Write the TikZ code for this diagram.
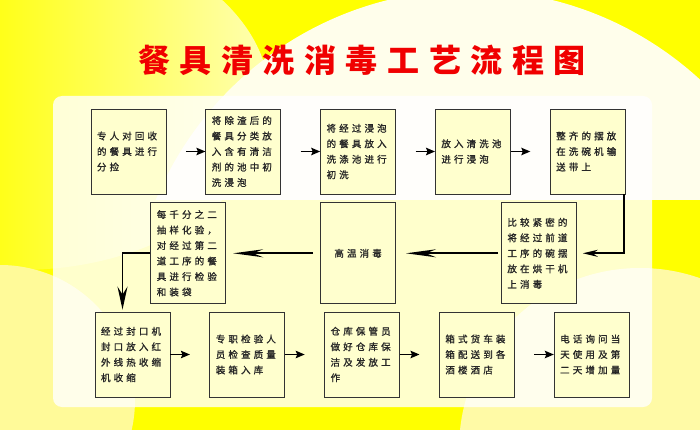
\documentclass[tikz,border=0pt]{standalone}
\usepackage{fontspec}
\usetikzlibrary{shapes,arrows,arrows.meta,positioning,calc}
\newfontfamily\cjk[LetterSpace=33, FakeBold=1.2]{Noto Sans CJK SC}
\newfontfamily\cjktitle[LetterSpace=30]{Noto Sans CJK SC}
\definecolor{bgyel}{RGB}{255,255,0}
\definecolor{boxfill}{RGB}{255,255,206}
\definecolor{boxline}{RGB}{51,51,51}
\definecolor{titlered}{RGB}{240,0,0}

\begin{document}
\begin{tikzpicture}[x=1pt, y=-1pt,
  box/.style={draw=boxline, line width=0.8pt, fill=boxfill, rectangle, minimum width=75pt, minimum height=85pt, text width=63pt, inner xsep=6pt, align=left, font=\cjk\fontsize{9.5}{15.5}\selectfont, text=black!85},
  tallbox/.style={box, minimum height=101pt},
  flow/.style={-{Stealth[length=9pt,width=7.5pt,inset=1.5pt]}, line width=1.3pt},
  conn/.style={-{Stealth[length=30pt,width=8pt,inset=10pt]}, line width=1.8pt}
]
\useasboundingbox (0,0) rectangle (700,430);

% 背景
\fill[bgyel] (0,0) rectangle (700,430);
\begin{scope}
\clip (20,100) ellipse [x radius=250, y radius=170];
\shade[left color=yellow!90!white, right color=yellow!30!white] (0,-70) rectangle (270,270);
\end{scope}
\begin{scope}
\clip (0,0) rectangle (700,200);
\fill[yellow!8!white] (470,330) circle (340);
\end{scope}
\fill[yellow!40!white] (0,400) circle (135);
\fill[yellow!35!white] (640,449) circle (181);

% 底板
\fill[white, opacity=.8, rounded corners=9pt] (53,96) rectangle (652,407);

% 标题
\node[font=\cjktitle\bfseries\fontsize{32}{36}\selectfont, text=titlered] (title) at (362,60) {餐具清洗消毒工艺流程图};

% 第一行
\node[box] (b1) at (128.5,151.5) {专人对回收\\的餐具进行\\分捡};
\node[box, right=39pt of b1] (b2) {将除渣后的\\餐具分类放\\入含有清洁\\剂的池中初\\洗浸泡};
\node[box, right=39pt of b2] (b3) {将经过浸泡\\的餐具放入\\洗涤池进行\\初洗};
\node[box, right=39pt of b3] (b4) {放入清洗池\\进行浸泡};
\node[box, right=39pt of b4] (b5) {整齐的摆放\\在洗碗机输\\送带上};

% 第二行
\node[tallbox, align=center, below=8pt of b3] (r2b) {高温消毒};
\node[tallbox, left=94pt of r2b] (r2a) {每千分之二\\抽样化验，\\对经过第二\\道工序的餐\\具进行检验\\和装袋};
\node[tallbox, right=105pt of r2b] (r2c) {比较紧密的\\将经过前道\\工序的碗摆\\放在烘干机\\上消毒};

% 第三行
\node[box] (c1) at (132.5,354.5) {经过封口机\\封口放入红\\外线热收缩\\机收缩};
\node[box, right=39pt of c1] (c2) {专职检验人\\员检查质量\\装箱入库};
\node[box, right=39pt of c2] (c3) {仓库保管员\\做好仓库保\\洁及发放工\\作};
\node[box, right=39pt of c3] (c4) {箱式货车装\\箱配送到各\\酒楼酒店};
\node[box, right=39pt of c4] (c5) {电话询问当\\天使用及第\\二天增加量};

% 箭头
\draw[flow] ($(b1.east)!.5!(b2.west)$) -- (b2.west);
\draw[flow] ($(b2.east)!.5!(b3.west)$) -- (b3.west);
\draw[flow] ($(b3.east)!.5!(b4.west)$) -- (b4.west);
\draw[flow] (b4.east) -- ($(b4.east)!.5!(b5.west)$);

\draw[conn, -{Stealth[length=15pt,width=7pt,inset=5pt]}, shorten >=6pt] ([xshift=-2pt]b5.south east) |- (r2c.east);
\draw[conn, shorten <=3pt, shorten >=10pt] (r2c.west) -- (r2b.east);
\draw[conn, shorten <=7pt, shorten >=7pt] (r2b.west) -- (r2a.east);
\draw[conn, -{Stealth[length=23pt,width=10pt,inset=8pt]}, shorten >=2pt] (r2a.west) -| ([xshift=-10pt]c1.north);

\draw[flow] (c1.east) -- ($(c1.east)!.5!(c2.west)$);
\draw[flow] (c2.east) -- ($(c2.east)!.5!(c3.west)$);
\draw[flow] (c3.east) -- ($(c3.east)!.5!(c4.west)$);
\draw[flow] ($(c4.east)!.5!(c5.west)$) -- (c5.west);
\end{tikzpicture}
\end{document}
